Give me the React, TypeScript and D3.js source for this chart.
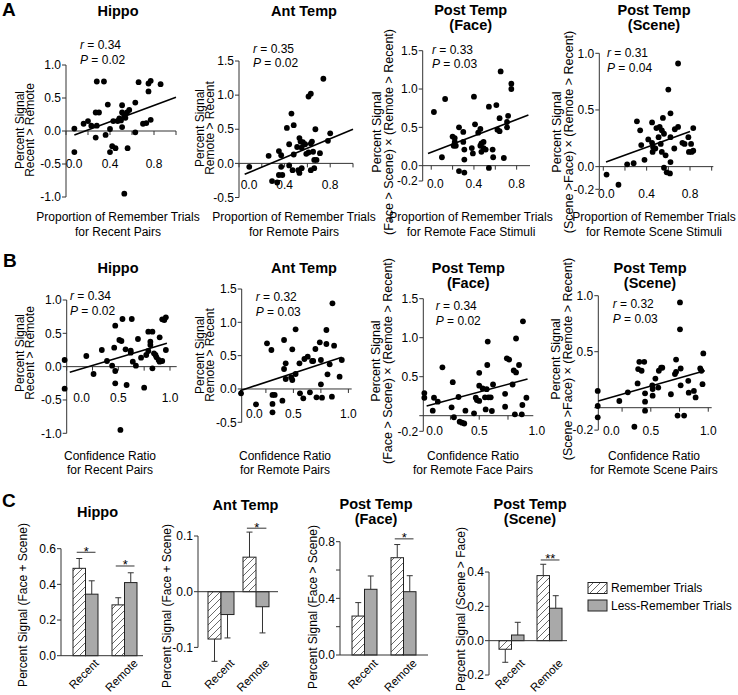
import React from 'react';
import * as d3 from 'd3';

type Pt = [number, number];

// ---------- A: proportion of remember trials vs percent signal ----------
const aHippoPts: Pt[] = [
  [0.076, 0.036], [0.076, -0.32], [0.16, 0.11], [0.2, 0.15], [0.23, 0.08], [0.28, 0.75], [0.345, 0.75],
  [0.27, 0.28], [0.3, 0.28], [0.28, 0.08], [0.27, -0.1], [0.38, 0.4], [0.36, -0.06], [0.4, 0.03],
  [0.4, -0.32], [0.42, -0.23], [0.45, -0.26], [0.43, 0.15], [0.47, 0.15], [0.485, 0.19], [0.51, 0.39],
  [0.51, 0.28], [0.53, 0.24], [0.51, 0.06], [0.53, -0.95], [0.54, 0.2], [0.555, 0.28], [0.56, -0.26],
  [0.575, 0.32], [0.63, 0.43], [0.63, -0.02], [0.66, 0.74], [0.7, 0.11], [0.73, 0.12], [0.75, 0.6],
  [0.75, 0.72], [0.77, 0.76], [0.77, 0.17], [0.86, 0.71], [0.5, 0.16],
];
const aHippoFit: Pt[] = [[0.076, -0.06], [1.0, 0.51]];

const aAntPts: Pt[] = [
  [0.09, -0.05], [0.26, 0.11], [0.29, -0.26], [0.335, -0.28], [0.35, -0.17], [0.38, -0.17], [0.35, 0.18],
  [0.37, 0.12], [0.37, -0.05], [0.42, 0.52], [0.44, 0.28], [0.44, -0.03], [0.47, -0.1], [0.46, 0.73],
  [0.48, 0.56], [0.48, 0.13], [0.52, -0.1], [0.53, 0.37], [0.53, -0.14], [0.54, 0.32], [0.55, 0.23],
  [0.55, -0.07], [0.56, 0.31], [0.59, 0.14], [0.58, 0.28], [0.61, 0.98], [0.63, 1.02], [0.61, 0.16],
  [0.63, 0.29], [0.63, -0.1], [0.64, 0.32], [0.65, 0.17], [0.66, 0.05], [0.66, -0.07], [0.67, 0.5],
  [0.68, 0.05], [0.71, 0.15], [0.74, 1.24], [0.78, 0.33], [0.8, 0.44], [0.51, 0.24],
];
const aAntFit: Pt[] = [[0.05, -0.16], [1.0, 0.5]];

const aFacePts: Pt[] = [
  [0.025, 0.7], [0.1, 0.11], [0.13, 0.87], [0.2, 0.38], [0.21, 0.26], [0.22, 0.36], [0.23, 0.26],
  [0.22, 0.31], [0.26, 0.5], [0.26, -0.07], [0.3, 0.44], [0.3, 0.31], [0.31, 0.21], [0.31, 0.08],
  [0.31, -0.09], [0.38, 0.23], [0.39, 0.16], [0.4, 0.9], [0.41, 0.54], [0.44, 0.43], [0.46, 0.26],
  [0.46, 0.48], [0.47, 0.29], [0.47, 0.18], [0.49, 0.23], [0.49, 0.31], [0.51, 0.21], [0.54, 0.77],
  [0.54, -0.03], [0.575, 0.21], [0.58, 0.11], [0.61, 0.79], [0.62, 0.47], [0.64, 0.45], [0.64, 0.62],
  [0.65, 1.23], [0.68, 0.1], [0.71, 0.5], [0.72, 0.65], [0.75, 1.07], [0.75, 1.0], [0.71, 0.57],
];
const aFaceFit: Pt[] = [[-0.03, 0.16], [0.91, 0.66]];

const aScenePts: Pt[] = [
  [0.03, -0.07], [0.14, -0.16], [0.22, 0.02], [0.28, 0.03], [0.31, 0.4], [0.34, 0.32], [0.35, 0.19],
  [0.38, 0.06], [0.415, 0.24], [0.45, 0.39], [0.45, 0.21], [0.455, 0.13], [0.46, 0.17], [0.48, 0.16],
  [0.49, 0.34], [0.51, 0.26], [0.52, 0.35], [0.53, 0.2], [0.54, 0.13], [0.54, 0.32], [0.55, 0.43],
  [0.56, 0.29], [0.56, -0.01], [0.575, 0.1], [0.585, -0.05], [0.6, 0.68], [0.615, -0.06], [0.62, 0.47],
  [0.62, 0.26], [0.62, 0.04], [0.655, 0.16], [0.66, 0.33], [0.69, 0.35], [0.69, 0.91], [0.73, 0.21],
  [0.75, 0.2], [0.785, 0.26], [0.79, 0.13], [0.81, 0.2], [0.815, 0.13], [0.83, 0.34], [0.83, 0.14],
];
const aSceneFit: Pt[] = [[0.025, 0.04], [0.8, 0.31]];

// ---------- B: confidence ratio vs percent signal ----------
const bHippoPts: Pt[] = [
  [-0.02, 0.1], [-0.02, -0.33], [0.19, 0.16], [0.26, -0.11], [0.34, 0.25], [0.39, 0.085], [0.44, 0.015],
  [0.46, 0.285], [0.47, 0.615], [0.47, -0.25], [0.47, -0.065], [0.51, 0.4], [0.53, 0.385], [0.54, 0.715],
  [0.52, -0.95], [0.57, 0.26], [0.58, -0.275], [0.62, 0.21], [0.62, 0.24], [0.63, 0.715], [0.64, 0.075],
  [0.67, 0.015], [0.69, 0.415], [0.72, 0.135], [0.75, -0.315], [0.77, 0.175], [0.79, 0.235], [0.79, 0.525],
  [0.81, 0.375], [0.81, 0.325], [0.83, 0.525], [0.83, -0.025], [0.845, 0.2], [0.86, 0.175], [0.87, 0.14],
  [0.89, 0.1], [0.9, 0.075], [0.925, 0.085], [0.9, 0.44], [0.925, 0.71], [0.945, 0.7], [0.96, 0.74],
  [0.96, 0.25],
];
const bHippoFit: Pt[] = [[0.03, -0.085], [0.97, 0.35]];

const bAntPts: Pt[] = [
  [0.024, -0.065], [0.16, -0.23], [0.26, 0.685], [0.3, 0.585], [0.31, -0.09], [0.31, -0.225], [0.31, -0.35],
  [0.33, -0.09], [0.4, -0.175], [0.415, 0.735], [0.415, 0.3], [0.43, 0.385], [0.43, 0.15], [0.48, 0.175],
  [0.49, 0.595], [0.49, 0.135], [0.52, 0.225], [0.52, 0.895], [0.555, 0.385], [0.56, -0.065], [0.59, -0.14],
  [0.6, 0.45], [0.63, 0.485], [0.65, -0.05], [0.67, 0.42], [0.68, 0.42], [0.71, -0.125], [0.7, 0.6],
  [0.74, 0.7], [0.75, 0.435], [0.75, 0.07], [0.76, -0.13], [0.8, 0.885], [0.8, 0.675], [0.81, 0.22],
  [0.83, 0.37], [0.85, -0.115], [0.855, 1.285], [0.87, 0.65], [0.92, 0.185], [0.94, 0.435],
];
const bAntFit: Pt[] = [[0.015, -0.025], [0.94, 0.475]];

const bFacePts: Pt[] = [
  [0.023, 0.29], [0.023, 0.23], [0.096, 0.064], [0.107, 0.23], [0.14, 0.18], [0.18, 0.62], [0.26, 0.107],
  [0.27, 0.43], [0.28, -0.02], [0.32, 0.24], [0.33, -0.077], [0.35, -0.09], [0.37, -0.1], [0.38, 0.064],
  [0.455, 0.03], [0.47, 0.23], [0.48, 0.2], [0.5, 0.55], [0.5, 0.19], [0.5, 0.385], [0.53, 0.35],
  [0.55, 0.235], [0.556, 0.08], [0.565, 0.34], [0.57, 0.65], [0.574, 0.95], [0.58, 0.235], [0.6, 0.235],
  [0.61, 0.06], [0.62, 0.4], [0.725, 0.28], [0.725, 0.115], [0.74, 0.735], [0.76, 0.72], [0.79, 0.4],
  [0.8, 0.58], [0.82, 0.555], [0.81, 0.017], [0.82, 0.99], [0.846, 0.65], [0.87, 0.017], [0.875, 0.137],
  [0.88, 1.21], [0.91, 0.23],
];
const bFaceFit: Pt[] = [[0.043, 0.124], [0.92, 0.47]];

const bScenePts: Pt[] = [
  [0.038, 0.15], [0.038, 0.015], [0.038, -0.086], [0.226, 0.06], [0.3, 0.137], [0.357, -0.17], [0.385, 0.217],
  [0.39, 0.345], [0.4, 0.41], [0.42, 0.33], [0.443, 0.41], [0.45, 0.128], [0.45, 0.054], [0.45, -0.027],
  [0.513, 0.2], [0.516, 0.167], [0.516, 0.107], [0.54, 0.26], [0.565, 0.18], [0.57, 0.33], [0.59, 0.357],
  [0.6, 0.357], [0.675, 0.12], [0.71, 0.3], [0.72, 0.32], [0.72, 0.43], [0.733, -0.07], [0.754, 0.94],
  [0.754, 0.7], [0.76, 0.35], [0.76, 0.2], [0.79, -0.07], [0.826, 0.24], [0.83, 0.134], [0.875, 0.15],
  [0.89, 0.092], [0.93, 0.35], [0.95, 0.21], [0.957, 0.485], [0.94, 0.33],
];
const bSceneFit: Pt[] = [[0.043, 0.06], [0.97, 0.33]];

// r and P values printed in each scatter panel
const aStats = [['0.34', '0.02'], ['0.35', '0.02'], ['0.33', '0.03'], ['0.31', '0.04']];
const bStats = [['0.34', '0.02'], ['0.32', '0.03'], ['0.34', '0.02'], ['0.32', '0.03']];

// ---------- C: bar charts ----------
const groups = ['Recent', 'Remote'];
const series = ['Remember Trials', 'Less-Remember Trials'];
const cHippoMean = [[0.49, 0.345], [0.285, 0.41]];
const cHippoErr = [[0.055, 0.075], [0.04, 0.055]];
const cHippoSig = ['*', '*'];
const cHippoSigY = [0.58, 0.503];
const cAntMean = [[-0.085, -0.041], [0.062, -0.027]];
const cAntErr = [[0.04, 0.042], [0.045, 0.047]];
const cAntSig = ['', '*'];
const cAntSigY = [0, 0.114];
const cFaceMean = [[0.275, 0.464], [0.687, 0.447]];
const cFaceErr = [[0.095, 0.094], [0.093, 0.113]];
const cFaceSig = ['', '*'];
const cFaceSigY = [0, 0.82];
const cSceneMean = [[-0.05, 0.033], [0.379, 0.189]];
const cSceneErr = [[0.076, 0.074], [0.066, 0.073]];
const cSceneSig = ['', '**'];
const cSceneSigY = [0, 0.47];

const FONT = 'Liberation Sans, Arial, Helvetica, sans-serif';
const AX = '#333';
const GRAY = '#a9a9a9';
const TICK_FS = 12;
const fmt = (v: number) => v.toFixed(1);

type ScatterCfg = {
  pts: Pt[]; fit: Pt[]; stats: string[];
  title: string[]; titleX: number; titleY: number;
  xDom: [number, number]; xRange: [number, number];
  yDom: [number, number]; yRange: [number, number];
  xTicks: number[]; xLabels: number[]; xLabelY: number; zeroShift: number;
  yTicks: number[]; yLabels: number[];
  statX: number; statY: number;
  yLab: string[]; yLabX: number[]; yLabY: number; yLabFs: number;
  xLab: string[]; xLabX: number; xLabY: number;
};

const step = (a: number, b: number, s: number) => d3.range(a, b + 1e-9, s).map((v) => +v.toFixed(3));

const scatters: ScatterCfg[] = [
  {
    pts: aHippoPts, fit: aHippoFit, stats: aStats[0], title: ['Hippo'], titleX: 118, titleY: 16,
    xDom: [0, 1], xRange: [66, 176], yDom: [-1, 1], yRange: [197, 65],
    xTicks: step(0, 1, 0.2), xLabels: [0, 0.4, 0.8], xLabelY: 167.5, zeroShift: 8,
    yTicks: [-1, -0.5, 0, 0.5, 1], yLabels: [-1, -0.5, 0, 0.5, 1], statX: 80, statY: 49,
    yLab: ['Percent Signal', 'Recent > Remote'], yLabX: [20, 30], yLabY: 130, yLabFs: 12,
    xLab: ['Proportion of Remember Trials', 'for Recent Pairs'], xLabX: 118, xLabY: 221,
  },
  {
    pts: aAntPts, fit: aAntFit, stats: aStats[1], title: ['Ant Temp'], titleX: 304, titleY: 16,
    xDom: [0, 1], xRange: [239, 353], yDom: [-0.5, 1.5], yRange: [197.5, 61],
    xTicks: step(0, 1, 0.2), xLabels: [0, 0.4, 0.8], xLabelY: 188.5, zeroShift: 10,
    yTicks: [-0.5, 0, 0.5, 1, 1.5], yLabels: [-0.5, 0, 0.5, 1, 1.5], statX: 253, statY: 52.5,
    yLab: ['Percent Signal', 'Remote > Recent'], yLabX: [200, 210], yLabY: 128, yLabFs: 12,
    xLab: ['Proportion of Remember Trials', 'for Remote Pairs'], xLabX: 294, xLabY: 221,
  },
  {
    pts: aFacePts, fit: aFaceFit, stats: aStats[2], title: ['Post Temp', '(Face)'], titleX: 470.7, titleY: 15,
    xDom: [-0.08, 0.925], xRange: [422.7, 530], yDom: [-0.2, 1.5], yRange: [181, 50.7],
    xTicks: step(0, 0.8, 0.2), xLabels: [0, 0.4, 0.8], xLabelY: 187.5, zeroShift: 4,
    yTicks: [-0.2, 0, 0.5, 1, 1.5], yLabels: [-0.2, 0, 0.5, 1, 1.5], statX: 432, statY: 53.5,
    yLab: ['Percent Signal', '(Face > Scene) \u00d7 (Remote > Recent)'], yLabX: [377, 388.5], yLabY: 132, yLabFs: 12.5,
    xLab: ['Proportion of Remember Trials', 'for Remote Face Stimuli'], xLabX: 471, xLabY: 221,
  },
  {
    pts: aScenePts, fit: aSceneFit, stats: aStats[3], title: ['Post Temp', '(Scene)'], titleX: 654, titleY: 15,
    xDom: [-0.037, 1.015], xRange: [599.3, 713.3], yDom: [-0.2, 1.0], yRange: [189.3, 53.3],
    xTicks: step(0, 1, 0.2), xLabels: [0, 0.4, 0.8], xLabelY: 197.5, zeroShift: 3,
    yTicks: [-0.2, 0, 0.5, 1], yLabels: [-0.2, 0, 0.5, 1], statX: 607, statY: 57,
    yLab: ['Percent Signal', '(Scene >Face) \u00d7 (Remote > Recent)'], yLabX: [557, 568.5], yLabY: 132, yLabFs: 12.5,
    xLab: ['Proportion of Remember Trials', 'for Remote Scene Stimuli'], xLabX: 654, xLabY: 221,
  },
  {
    pts: bHippoPts, fit: bHippoFit, stats: bStats[0], title: ['Hippo'], titleX: 118, titleY: 273,
    xDom: [0, 1.065], xRange: [66.7, 176.7], yDom: [-1, 1], yRange: [433.3, 300],
    xTicks: step(0, 1, 0.25), xLabels: [0, 0.5, 1], xLabelY: 402, zeroShift: 15,
    yTicks: [-1, -0.5, 0, 0.5, 1], yLabels: [-1, -0.5, 0, 0.5, 1], statX: 70, statY: 300,
    yLab: ['Percent Signal', 'Recent > Remote'], yLabX: [20, 30], yLabY: 353, yLabFs: 12,
    xLab: ['Confidence Ratio', 'for Recent Pairs'], xLabX: 110, xLabY: 459.5,
  },
  {
    pts: bAntPts, fit: bAntFit, stats: bStats[1], title: ['Ant Temp'], titleX: 304, titleY: 273,
    xDom: [0.03, 1.03], xRange: [241.7, 351.7], yDom: [-0.5, 1.5], yRange: [422.3, 289],
    xTicks: step(0.25, 1, 0.25), xLabels: [0, 0.5, 1], xLabelY: 418, zeroShift: 16,
    yTicks: [-0.5, 0, 0.5, 1, 1.5], yLabels: [-0.5, 0, 0.5, 1, 1.5], statX: 255.7, statY: 301,
    yLab: ['Percent Signal', 'Remote > Recent'], yLabX: [200, 210], yLabY: 355, yLabFs: 12,
    xLab: ['Confidence Ratio', 'for Remote Pairs'], xLabX: 285, xLabY: 459.5,
  },
  {
    pts: bFacePts, fit: bFaceFit, stats: bStats[2], title: ['Post Temp', '(Face)'], titleX: 468.3, titleY: 273,
    xDom: [0.014, 0.97], xRange: [423.3, 533.3], yDom: [-0.2, 1.5], yRange: [431.3, 298.7],
    xTicks: step(0.25, 0.75, 0.25), xLabels: [0, 0.5, 1], xLabelY: 434.5, zeroShift: 13,
    yTicks: [-0.2, 0, 0.5, 1, 1.5], yLabels: [-0.2, 0.5, 1, 1.5], statX: 435.7, statY: 310,
    yLab: ['Percent Signal', '(Face > Scene) \u00d7 (Remote > Recent)'], yLabX: [376, 387.5], yLabY: 361, yLabFs: 12.5,
    xLab: ['Confidence Ratio', 'for Remote Face Pairs'], xLabX: 473, xLabY: 459.5,
  },
  {
    pts: bScenePts, fit: bSceneFit, stats: bStats[3], title: ['Post Temp', '(Scene)'], titleX: 650, titleY: 273,
    xDom: [0.043, 1.03], xRange: [598.3, 711.7], yDom: [-0.2, 1.0], yRange: [430.1, 295.7],
    xTicks: step(0.25, 1, 0.25), xLabels: [0, 0.5, 1], xLabelY: 435, zeroShift: 18,
    yTicks: [-0.2, 0, 0.5, 1], yLabels: [-0.2, 0.5, 1], statX: 612.7, statY: 308,
    yLab: ['Percent Signal', '(Scene >Face) \u00d7 (Remote > Recent)'], yLabX: [556, 567.5], yLabY: 359, yLabFs: 12.5,
    xLab: ['Confidence Ratio', 'for Remote Scene Pairs'], xLabX: 654, xLabY: 459.5,
  },
];

type BarCfg = {
  mean: number[][]; err: number[][]; sig: string[]; sigY: number[];
  title: string[]; titleX: number; titleY: number;
  yDom: [number, number]; yRange: [number, number]; yTicks: number[]; yLabels: number[];
  axisX: number; axisEnd: number; barRange: [number, number]; pad: number;
  yLab: string; yLabX: number; yLabY: number;
};

const bars: BarCfg[] = [
  {
    mean: cHippoMean, err: cHippoErr, sig: cHippoSig, sigY: cHippoSigY,
    title: ['Hippo'], titleX: 97.5, titleY: 517,
    yDom: [0, 0.6], yRange: [655.7, 548.7], yTicks: [0, 0.2, 0.4, 0.6], yLabels: [0, 0.2, 0.4, 0.6],
    axisX: 61, axisEnd: 143, barRange: [73, 137], pad: 0.359,
    yLab: 'Percent Signal (Face + Scene)', yLabX: 23, yLabY: 605,
  },
  {
    mean: cAntMean, err: cAntErr, sig: cAntSig, sigY: cAntSigY,
    title: ['Ant Temp'], titleX: 245.5, titleY: 510,
    yDom: [-0.1, 0.1], yRange: [647.4, 536], yTicks: [-0.1, 0, 0.1], yLabels: [-0.1, 0, 0.1],
    axisX: 198, axisEnd: 278, barRange: [208, 269], pad: 0.257,
    yLab: 'Percent Signal (Face + Scene)', yLabX: 167, yLabY: 606,
  },
  {
    mean: cFaceMean, err: cFaceErr, sig: cFaceSig, sigY: cFaceSigY,
    title: ['Post Temp', '(Face)'], titleX: 376, titleY: 509,
    yDom: [0, 0.8], yRange: [655, 541.7], yTicks: [0, 0.2, 0.4, 0.6, 0.8], yLabels: [0, 0.4, 0.8],
    axisX: 340, axisEnd: 428, barRange: [352, 416], pad: 0.359,
    yLab: 'Percent Signal (Face > Scene)', yLabX: 313, yLabY: 607,
  },
  {
    mean: cSceneMean, err: cSceneErr, sig: cSceneSig, sigY: cSceneSigY,
    title: ['Post Temp', '(Scene)'], titleX: 530, titleY: 509,
    yDom: [-0.2, 0.4], yRange: [675, 572], yTicks: [-0.2, 0, 0.2, 0.4], yLabels: [-0.2, 0, 0.2, 0.4],
    axisX: 489, axisEnd: 567, barRange: [499, 562], pad: 0.342,
    yLab: 'Percent Signal (Scene > Face)', yLabX: 461, yLabY: 609,
  },
];

function Scatter({ c }: { c: ScatterCfg }) {
  const x = d3.scaleLinear().domain(c.xDom).range(c.xRange);
  const y = d3.scaleLinear().domain(c.yDom).range(c.yRange);
  const line = d3.line<Pt>().x((d) => x(d[0])).y((d) => y(d[1]));
  const x0 = c.xRange[0];
  const y0 = y(0);
  return (
    <g>
      {c.title.map((t, i) => (
        <text key={t} x={c.titleX} y={c.titleY + i * 14.5} textAnchor="middle" fontWeight="bold" fontSize={14.5}>{t}</text>
      ))}
      <text x={c.statX} y={c.statY} fontSize={12}><tspan fontStyle="italic">r</tspan> = {c.stats[0]}</text>
      <text x={c.statX} y={c.statY + 14.5} fontSize={12}><tspan fontStyle="italic">P</tspan> = {c.stats[1]}</text>
      {/* y axis */}
      <line x1={x0} x2={x0} y1={y(c.yDom[0])} y2={y(c.yDom[1])} stroke={AX} />
      {c.yTicks.map((t) => (
        <line key={t} x1={x0 - 4} x2={x0} y1={y(t)} y2={y(t)} stroke={AX} />
      ))}
      {c.yLabels.map((t) => (
        <text key={t} x={x0 - 5} y={y(t)} dy="0.35em" textAnchor="end" fontSize={TICK_FS}>{fmt(t)}</text>
      ))}
      {/* x axis on the zero line */}
      <line x1={x0} x2={c.xRange[1]} y1={y0} y2={y0} stroke={AX} />
      {c.xTicks.map((t) => (
        <line key={t} x1={x(t)} x2={x(t)} y1={y0} y2={y0 + 4} stroke={AX} />
      ))}
      {c.xLabels.map((t) => (
        <text key={t} x={x(t) + (t === 0 ? c.zeroShift : 0)} y={c.xLabelY} textAnchor="middle" fontSize={TICK_FS}>{fmt(t)}</text>
      ))}
      {c.pts.map((d, i) => (
        <circle key={i} cx={x(d[0])} cy={y(d[1])} r={2.9} fill="#000" />
      ))}
      <path d={line(c.fit) ?? ''} stroke="#000" strokeWidth={1.6} fill="none" />
      {c.yLab.map((t, i) => (
        <text key={t} transform={`translate(${c.yLabX[i]},${c.yLabY}) rotate(-90)`} dy="0.35em" textAnchor="middle" fontSize={c.yLabFs}>{t}</text>
      ))}
      {c.xLab.map((t, i) => (
        <text key={t} x={c.xLabX} y={c.xLabY + i * 14.5} textAnchor="middle" fontSize={12}>{t}</text>
      ))}
    </g>
  );
}

function Bars({ c }: { c: BarCfg }) {
  const y = d3.scaleLinear().domain(c.yDom).range(c.yRange);
  const gx = d3.scaleBand().domain(groups).range(c.barRange).paddingInner(c.pad);
  const sx = d3.scaleBand().domain(series).range([0, gx.bandwidth()]);
  const y0 = y(0);
  return (
    <g>
      {c.title.map((t, i) => (
        <text key={t} x={c.titleX} y={c.titleY + i * 14.5} textAnchor="middle" fontWeight="bold" fontSize={14.5}>{t}</text>
      ))}
      {groups.map((g, gi) =>
        series.map((s, si) => {
          const v = c.mean[gi][si];
          const e = c.err[gi][si];
          const bx = (gx(g) ?? 0) + (sx(s) ?? 0);
          const cx = bx + sx.bandwidth() / 2;
          const ye = y(v + Math.sign(v) * e);
          return (
            <g key={g + s}>
              <line x1={cx} x2={cx} y1={y(v)} y2={ye} stroke="#333" />
              <line x1={cx - 3} x2={cx + 3} y1={ye} y2={ye} stroke="#333" />
              <rect x={bx} width={sx.bandwidth()} y={Math.min(y(v), y0)} height={Math.abs(y(v) - y0)}
                fill={si === 0 ? 'url(#hatch)' : GRAY} stroke="#222" strokeWidth={1} />
            </g>
          );
        })
      )}
      {groups.map((g, gi) => {
        if (!c.sig[gi]) return null;
        const gl = gx(g) ?? 0;
        const ly = y(c.sigY[gi]);
        return (
          <g key={'sig' + g}>
            <line x1={gl + gx.bandwidth() * 0.15} x2={gl + gx.bandwidth() * 0.9} y1={ly} y2={ly} stroke="#333" />
            <text x={gl + gx.bandwidth() * 0.53} y={ly + 3.5} textAnchor="middle" fontSize={13}>{c.sig[gi]}</text>
          </g>
        );
      })}
      <line x1={c.axisX} x2={c.axisX} y1={c.yRange[0]} y2={c.yRange[1]} stroke={AX} />
      {c.yTicks.map((t) => (
        <line key={t} x1={c.axisX - 4} x2={c.axisX} y1={y(t)} y2={y(t)} stroke={AX} />
      ))}
      {c.yLabels.map((t) => (
        <text key={t} x={c.axisX - 5} y={y(t)} dy="0.35em" textAnchor="end" fontSize={TICK_FS}>{fmt(t)}</text>
      ))}
      <line x1={c.axisX} x2={c.axisEnd} y1={y0} y2={y0} stroke={AX} />
      {groups.map((g) => {
        const gc = (gx(g) ?? 0) + gx.bandwidth() / 2;
        return (
          <text key={'xl' + g} transform={`translate(${gc + 14},664) rotate(-45)`} textAnchor="end" fontSize={11.5}>{g}</text>
        );
      })}
      <text transform={`translate(${c.yLabX},${c.yLabY}) rotate(-90)`} dy="0.35em" textAnchor="middle" fontSize={12}>{c.yLab}</text>
    </g>
  );
}

export default function App() {
  return (
    <div style={{ position: 'absolute', left: 0, top: 0 }}>
      <svg width={738} height={695} style={{ display: 'block', background: '#fff' }} fontFamily={FONT}>
        <defs>
          <pattern id="hatch" patternUnits="userSpaceOnUse" width={7} height={7}>
            <rect width={7} height={7} fill="#fff" />
            <path d="M-1,1 L1,-1 M0,7 L7,0 M6,8 L8,6" stroke="#444" strokeWidth={0.8} />
          </pattern>
        </defs>
        <text x={2} y={16} fontSize={19} fontWeight="bold">A</text>
        <text x={3} y={267} fontSize={19} fontWeight="bold">B</text>
        <text x={2} y={507} fontSize={19} fontWeight="bold">C</text>
        {scatters.map((c, i) => (
          <Scatter key={i} c={c} />
        ))}
        {bars.map((c, i) => (
          <Bars key={i} c={c} />
        ))}
        <g>
          <rect x={588} y={582.5} width={19} height={11} fill="url(#hatch)" stroke="#222" />
          <text x={611} y={592} fontSize={12}>{series[0]}</text>
          <rect x={588} y={600} width={19} height={11} fill={GRAY} stroke="#222" />
          <text x={611} y={609.5} fontSize={12}>{series[1]}</text>
        </g>
      </svg>
    </div>
  );
}
